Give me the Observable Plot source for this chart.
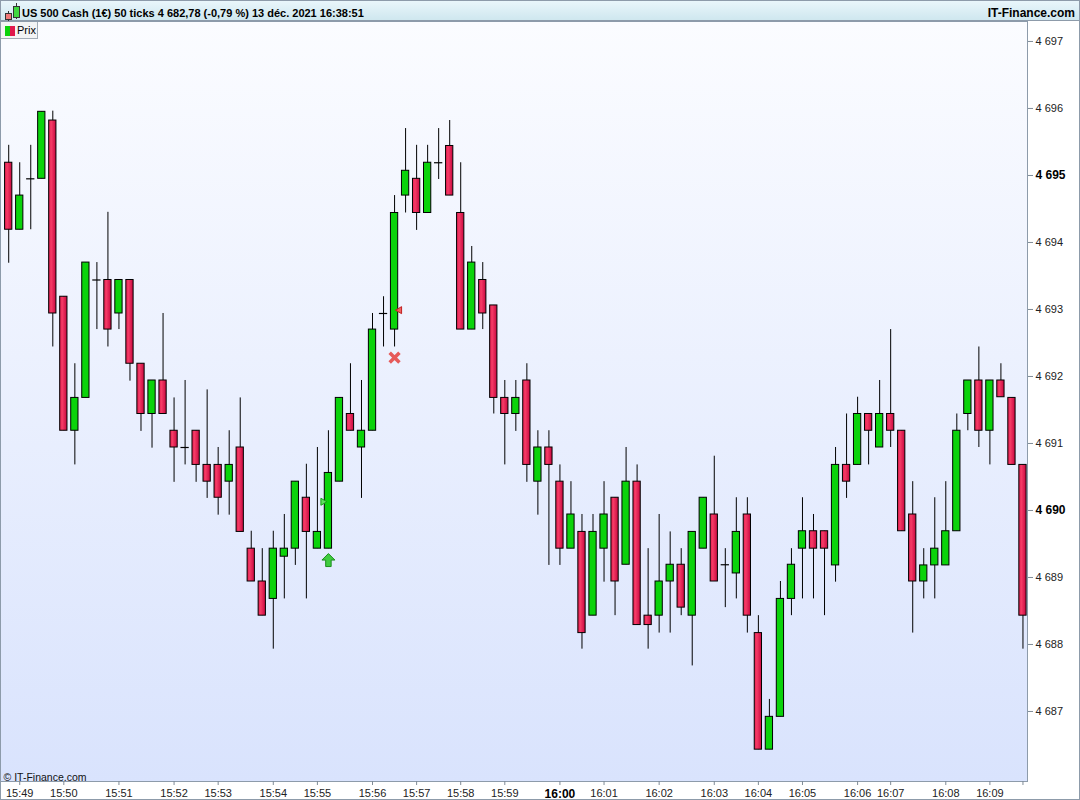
<!DOCTYPE html>
<html><head><meta charset="utf-8">
<script src="https://cdn.jsdelivr.net/npm/d3@7"></script>
<script src="https://cdn.jsdelivr.net/npm/@observablehq/plot@0.6"></script>
<style>
html,body{margin:0;padding:0;background:#fff;}
#wrap{position:relative;width:1080px;height:800px;overflow:hidden;font-family:"Liberation Sans",Arial,sans-serif;}
#hdr{position:absolute;left:0;top:0;width:1080px;height:19px;border-top:1px solid #8d9baa;border-bottom:1px solid #8d9baa;background:linear-gradient(#e9f6fb,#cfe7ef);}
#hdr .t{position:absolute;left:22px;top:2px;line-height:20px;font-size:11px;font-weight:bold;color:#000;white-space:nowrap;}
#hdr .r{position:absolute;right:5px;top:2px;line-height:20px;font-size:12px;font-weight:bold;color:#000;white-space:nowrap;}
#hdr svg{position:absolute;left:2px;top:1px;}
#chart{position:absolute;left:0;top:21px;}
#prix{position:absolute;left:0;top:22px;width:37px;height:16px;background:#f3f4f5;border-right:1px solid #a3adb7;border-bottom:1px solid #a3adb7;font-size:11px;color:#000;}
#prix .g{position:absolute;left:5px;top:4px;width:5px;height:10px;background:#0bd20b;}
#prix .rd{position:absolute;left:10px;top:4px;width:5px;height:10px;background:#e0184c;}
#prix .l{position:absolute;left:17px;top:0px;line-height:17px;}
#border{position:absolute;left:0;top:0;width:1078px;height:798px;border:1px solid #8d9baa;pointer-events:none;}
</style></head>
<body>
<div id="wrap">
  <div id="hdr">
    <svg width="20" height="20" viewBox="0 0 20 20">
      <line x1="6.5" y1="9" x2="6.5" y2="19" stroke="#333" stroke-width="1"/>
      <rect x="3.5" y="11.5" width="6" height="6" fill="#f07a7a" stroke="#333" stroke-width="1"/>
      <line x1="14.5" y1="1" x2="14.5" y2="17" stroke="#333" stroke-width="1"/>
      <rect x="11.5" y="4.5" width="6" height="11" fill="#3fd83f" stroke="#333" stroke-width="1"/>
    </svg>
    <div class="t">US 500 Cash (1€) 50 ticks 4 682,78 (-0,79 %) 13 déc. 2021 16:38:51</div>
    <div class="r">IT-Finance.com</div>
  </div>
  <div id="chart"></div>
  <div id="prix"><div class="g"></div><div class="rd"></div><div class="l">Prix</div></div>
  <div id="border"></div>
</div>
<script>
// ---- Data (50-tick candles) ----
const opens = [4695.19,4694.19,4694.95,4694.95,4695.82,4693.19,4691.19,4691.68,4693.44,4693.44,
4692.94,4693.44,4692.19,4691.44,4691.94,4691.19,4690.94,4691.19,4690.68,4690.68,
4690.43,4690.94,4689.43,4688.94,4688.68,4689.31,4689.43,4690.19,4689.43,4689.43,
4690.43,4691.44,4690.94,4691.19,4692.94,4692.70,4694.70,4694.95,4694.44,4695.19,
4695.44,4694.44,4692.70,4693.44,4693.06,4691.68,4691.44,4691.94,4690.43,4690.94,
4690.43,4689.43,4689.68,4688.43,4689.43,4690.19,4689.19,4690.43,4688.43,4688.43,
4688.94,4689.19,4688.43,4689.43,4689.94,4689.19,4689.06,4689.94,4688.17,4686.43,
4686.92,4688.68,4689.43,4689.69,4689.69,4689.18,4690.68,4690.68,4691.44,4690.94,
4691.44,4691.19,4689.94,4688.94,4689.18,4689.18,4689.69,4691.44,4691.94,4691.19,
4691.94,4691.68,4690.68];
const closes = [4694.19,4694.70,4694.95,4695.95,4692.94,4691.19,4691.68,4693.70,4693.44,4692.70,
4693.44,4692.19,4691.44,4691.94,4691.44,4690.94,4690.94,4690.68,4690.43,4690.19,
4690.68,4689.68,4688.94,4688.43,4689.43,4689.43,4690.43,4689.68,4689.68,4690.56,
4691.68,4691.19,4691.19,4692.70,4692.94,4694.44,4695.07,4694.44,4695.19,4695.19,
4694.70,4692.70,4693.70,4692.94,4691.68,4691.44,4691.68,4690.68,4690.94,4690.68,
4689.43,4689.94,4688.17,4689.68,4689.94,4688.94,4690.43,4688.29,4688.29,4688.94,
4689.19,4688.55,4689.68,4690.19,4688.94,4689.19,4689.68,4688.43,4686.43,4686.92,
4688.68,4689.19,4689.69,4689.43,4689.43,4690.68,4690.43,4691.44,4691.19,4691.44,
4691.19,4689.69,4688.94,4689.18,4689.43,4689.69,4691.19,4691.94,4691.19,4691.94,
4691.69,4690.68,4688.43];
const highs = [4695.45,4695.19,4695.45,4695.95,4695.96,4693.19,4692.19,4693.70,4693.70,4694.45,
4693.44,4693.44,4692.19,4691.94,4692.94,4691.68,4691.94,4691.19,4691.80,4690.94,
4691.19,4691.68,4689.69,4689.43,4689.69,4689.94,4690.43,4690.69,4690.94,4691.19,
4691.68,4692.19,4691.94,4692.94,4693.19,4694.70,4695.70,4695.45,4695.45,4695.70,
4695.82,4695.19,4693.94,4693.70,4693.06,4691.94,4691.94,4692.19,4691.19,4691.19,
4690.68,4690.43,4689.94,4689.94,4690.43,4690.19,4690.94,4690.68,4689.43,4689.94,
4689.68,4689.43,4689.68,4690.19,4690.81,4689.43,4690.19,4690.19,4688.43,4687.18,
4688.94,4689.43,4690.19,4689.94,4689.69,4690.94,4691.44,4691.69,4691.44,4691.94,
4692.70,4691.19,4690.43,4689.43,4690.19,4690.43,4691.44,4691.94,4692.44,4691.94,
4692.19,4691.68,4690.68];
const lows = [4693.69,4694.19,4694.19,4694.95,4692.44,4691.19,4690.68,4691.68,4692.70,4692.44,
4692.70,4691.93,4691.18,4690.93,4691.44,4690.42,4690.68,4690.42,4690.18,4689.93,
4689.93,4689.68,4688.94,4688.43,4687.93,4688.68,4689.18,4688.68,4689.43,4689.43,
4690.43,4691.19,4690.18,4691.19,4692.44,4692.44,4694.44,4694.18,4694.44,4694.94,
4694.70,4692.70,4692.70,4692.70,4691.44,4690.68,4691.18,4690.42,4689.93,4689.18,
4689.18,4689.43,4687.93,4688.43,4688.93,4688.43,4689.19,4688.29,4687.93,4688.17,
4688.17,4688.43,4687.68,4689.43,4688.94,4688.55,4688.68,4688.17,4686.43,4686.43,
4686.92,4688.43,4688.68,4688.68,4688.43,4688.93,4690.18,4690.68,4690.68,4690.94,
4690.94,4689.69,4688.17,4688.68,4688.68,4689.18,4689.69,4691.19,4690.94,4690.68,
4691.69,4690.68,4687.93];

// time axis: candle index where each minute starts
const timeTickIndex = [1,5,10,15,19,24,28,33,37,41,45,50,54,59,64,68,72,77,80,85,89];
const timeTickLabel = ["15:49","15:50","15:51","15:52","15:53","15:54","15:55","15:56","15:57","15:58","15:59",
  "16:00","16:01","16:02","16:03","16:04","16:05","16:06","16:07","16:08","16:09"];
const boldTime = "16:00";
const priceTicks = [4687,4688,4689,4690,4691,4692,4693,4694,4695,4696,4697];
const boldPrices = [4690,4695];

// trading signals
const buyIndex = [29],  buyPrice = [4689.26];
const sellIndex = [35], sellPrice = [4692.28];
const entryIndex = [29], entryPrice = [4690.13];
const exitIndex = [35],  exitPrice = [4692.99];

// ---- Build ----
const candles = opens.map((o, i) => ({i, open: o, close: closes[i], high: highs[i], low: lows[i]}));
const up = candles.filter(d => d.close > d.open);
const down = candles.filter(d => d.close < d.open);
const doji = candles.filter(d => d.close === d.open);
const buys = buyIndex.map((i, k) => ({i, p: buyPrice[k]}));
const sells = sellIndex.map((i, k) => ({i, p: sellPrice[k]}));
const entries = entryIndex.map((i, k) => ({i, p: entryPrice[k]}));
const exits = exitIndex.map((i, k) => ({i, p: exitPrice[k]}));
const labelOf = new Map(timeTickIndex.map((t, k) => [t, timeTickLabel[k]]));
const boldIdx = timeTickIndex[timeTickLabel.indexOf(boldTime)];
const fmtP = d => d3.format(",")(d).replace(",", " ");

const arrowUp = {
  draw(ctx, size) {
    const r = Math.sqrt(size / Math.PI), w = 0.42 * r;
    ctx.moveTo(0, -r); ctx.lineTo(r, 0); ctx.lineTo(w, 0); ctx.lineTo(w, r);
    ctx.lineTo(-w, r); ctx.lineTo(-w, 0); ctx.lineTo(-r, 0); ctx.closePath();
  }
};

const GREEN = "#0bd30b";
const plot = Plot.plot({
  width: 1080, height: 779,
  marginLeft: 0, marginRight: 53, marginTop: 0, marginBottom: 19,
  style: {background: "#fff", fontFamily: "'Liberation Sans', Arial, sans-serif", fontSize: "11px", color: "#222"},
  x: {type: "band", domain: d3.range(opens.length), range: [4.07, 1026.6], paddingInner: 0.25, paddingOuter: 0, round: false, axis: null, label: null},
  y: {domain: [4685.955, 4697.298], axis: null, label: null},
  marks: [
    Plot.frame({fill: "url(#bgGrad)", stroke: "#8d9baa"}),
    Plot.ruleX(candles, {x: "i", y1: "low", y2: "high", stroke: "#000", strokeWidth: 1}),
    Plot.barY(up, {x: "i", y1: "open", y2: "close", fill: GREEN, stroke: "#000", strokeWidth: 1, insetLeft: 0.5, insetRight: 0.5}),
    Plot.barY(down, {x: "i", y1: "open", y2: "close", fill: "url(#redGrad)", stroke: "#000", strokeWidth: 1, insetLeft: 0.5, insetRight: 0.5}),
    Plot.tickY(doji, {x: "i", y: "open", stroke: "#000", strokeWidth: 1.2}),
    Plot.dot(buys, {x: "i", y: "p", symbol: arrowUp, r: 6.5, fill: "#3fcc3f", stroke: "#1c8f1c", strokeWidth: 1}),
    Plot.dot(sells, {x: "i", y: "p", symbol: "times", r: 4.5, stroke: "#e65a5a", strokeWidth: 3.5}),
    Plot.dot(entries, {x: "i", y: "p", symbol: "triangle", rotate: 90, r: 2.6, dx: -5.5, fill: "#5fe05f", stroke: "#15a015", strokeWidth: 1}),
    Plot.dot(exits, {x: "i", y: "p", symbol: "triangle", rotate: -90, r: 2.6, dx: 5, fill: "#f06060", stroke: "#c02020", strokeWidth: 1}),
    Plot.text(["© IT-Finance.com"], {frameAnchor: "bottom-left", lineAnchor: "bottom", textAnchor: "start", dx: 3, dy: -1, fontSize: 10.5, fill: "#111"}),
    Plot.axisY({anchor: "right", ticks: priceTicks.filter(t => !boldPrices.includes(t)), tickFormat: fmtP, tickSize: 5, tickPadding: 3, stroke: "#7f8b97", fill: "#222", fontSize: 11, label: null}),
    Plot.axisY({anchor: "right", ticks: boldPrices, tickFormat: fmtP, tickSize: 5, tickPadding: 3, stroke: "#7f8b97", fill: "#000", fontSize: 12, fontWeight: "bold", label: null}),
    Plot.axisX({anchor: "bottom", ticks: timeTickIndex.filter(t => t !== boldIdx), tickFormat: t => labelOf.get(t), tickSize: 4, tickPadding: 4, stroke: "#7f8b97", fill: "#222", fontSize: 11, label: null}),
    Plot.axisX({anchor: "bottom", ticks: [boldIdx], tickFormat: t => labelOf.get(t), tickSize: 4, tickPadding: 4, stroke: "#7f8b97", fill: "#000", fontSize: 12, fontWeight: "bold", label: null}),
    Plot.axisX({anchor: "bottom", ticks: [opens.length - 1], tickFormat: () => "", tickSize: 4, stroke: "#7f8b97", label: null})
  ]
});

const svg = d3.select(plot);
const defs = svg.insert("defs", ":first-child");
const bg = defs.append("linearGradient").attr("id", "bgGrad").attr("x1", 0).attr("y1", 0).attr("x2", 0).attr("y2", 1);
bg.append("stop").attr("offset", "0%").attr("stop-color", "#fbfcff");
bg.append("stop").attr("offset", "100%").attr("stop-color", "#d9e3fd");
const rg = defs.append("linearGradient").attr("id", "redGrad").attr("x1", 0).attr("y1", 0).attr("x2", 1).attr("y2", 0);
rg.append("stop").attr("offset", "0%").attr("stop-color", "#e41d50");
rg.append("stop").attr("offset", "35%").attr("stop-color", "#f53b66");
rg.append("stop").attr("offset", "100%").attr("stop-color", "#c90840");

document.getElementById("chart").appendChild(plot);
</script>
</body></html>
